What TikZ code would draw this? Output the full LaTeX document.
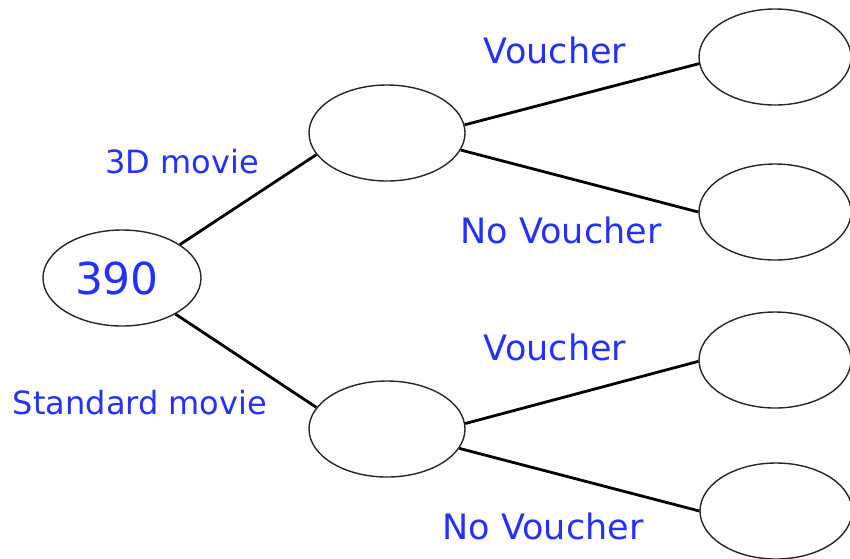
\documentclass[tikz,border=0pt]{standalone}
\usepackage{fontspec}
\setmainfont{DejaVu Sans}
\usetikzlibrary{shapes.geometric}
\definecolor{lblue}{RGB}{36,48,255}
\tikzset{
  bub/.style={draw=black!85, line width=1.4pt, ellipse, minimum width=156pt, minimum height=96pt, inner sep=0pt},
  conn/.style={line width=2.8pt, black},
  lbl/.style={text=lblue, font=\fontsize{35}{38}\selectfont, inner sep=0pt, anchor=center},
}
\begin{document}
\begin{tikzpicture}[x=1pt,y=-1pt]
\useasboundingbox (0,0) rectangle (850,558);
\node[bub, minimum width=158pt] (root) at (122,278) {};
\node[lbl, font=\fontsize{44}{48}\selectfont] (n390) at (117,278) {390};
\node[bub] (a) at (387,133) {};
\node[bub] (b) at (387,429) {};
\node[bub, minimum width=152pt] (a1) at (775,57) {};
\node[bub, minimum width=152pt] (a2) at (775,212) {};
\node[bub, minimum width=152pt] (b1) at (775,360) {};
\node[bub, minimum width=152pt] (b2) at (776,511) {};
\draw[conn] (root.30) -- (a.197);
\draw[conn] (root.-34) -- (b.163);
\draw[conn] (a.6) -- (a1.185);
\draw[conn] (a.-13) -- (a2.180);
\draw[conn] (b.4.5) -- (b1.181);
\draw[conn] (b.-15) -- (b2.180);
\node[lbl, font=\fontsize{32}{35}\selectfont] (l3d) at (182,162) {3D movie};
\node[lbl, font=\fontsize{32}{35}\selectfont] (lstd) at (140,403) {Standard movie};
\node[lbl] (lv1) at (555,50) {Voucher};
\node[lbl] (lnv1) at (561,230) {No Voucher};
\node[lbl] (lv2) at (555,347) {Voucher};
\node[lbl] (lnv2) at (543,526) {No Voucher};
\end{tikzpicture}
\end{document}
